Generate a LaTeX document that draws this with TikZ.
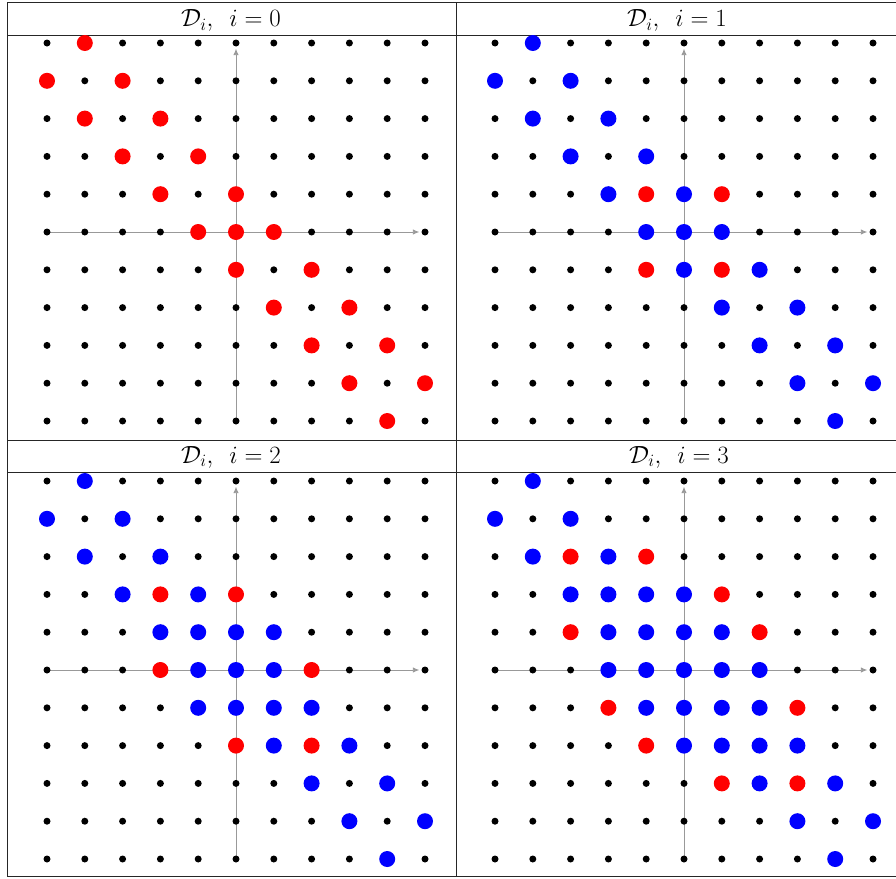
\documentclass[tikz,border=0pt]{standalone}
\usetikzlibrary{arrows.meta}
\tikzset{
  axisline/.style={draw=black!40, line width=0.9pt, -{Latex[length=6.5pt,width=5.5pt]}},
  tableline/.style={draw=black!85, line width=0.9pt},
  smalldot/.style={fill=black},
  reddot/.style={fill=red},
  bluedot/.style={fill=blue},
  headtext/.style={inner sep=0pt, anchor=base, font=\fontsize{25}{30}\selectfont}
}
\newcommand\gridpanel[4]{%
  \begin{scope}[shift={(#1pt,-#2pt)}, x=37.8pt, y=37.8pt]
    \draw[axisline] (-5,0) -- (4.85,0);
    \draw[axisline] (0,-5) -- (0,4.85);
    \foreach \i in {-5,...,5}{\foreach \j in {-5,...,5}{\fill[smalldot] (\i,\j) circle[radius=3.5pt];}}
    \foreach \a/\b in {#3}{\fill[reddot] (\a,\b) circle[radius=8pt];}
    \foreach \a/\b in {#4}{\fill[bluedot] (\a,\b) circle[radius=8pt];}
  \end{scope}}
\begin{document}
\begin{tikzpicture}
  \path[use as bounding box] (0pt,0pt) rectangle (896pt,-878pt);
  % table
  \foreach \yy in {2.7,35,440,472.5,876.5}{\draw[tableline] (7.3pt,-\yy pt) -- (897pt,-\yy pt);}
  \draw[tableline] (7.3pt,-2.7pt) -- (7.3pt,-876.5pt);
  \draw[tableline] (456pt,-2.7pt) -- (456pt,-876.5pt);
  % headers
  \node[headtext] (h0) at (231pt,-27pt) {$\mathcal{D}_i,\ \,i=0$};
  \node[headtext] (h1) at (677pt,-27pt) {$\mathcal{D}_i,\ \,i=1$};
  \node[headtext] (h2) at (231pt,-463pt) {$\mathcal{D}_i,\ \,i=2$};
  \node[headtext] (h3) at (679pt,-463pt) {$\mathcal{D}_i,\ \,i=3$};
  % panels
  \gridpanel{236}{232}{-4/5,-5/4,-3/4,-4/3,-2/3,-3/2,-1/2,-2/1,0/1,-1/0,0/0,1/0,0/-1,2/-1,1/-2,3/-2,2/-3,4/-3,3/-4,5/-4,4/-5}{}
  \gridpanel{684}{232}{-1/1,1/1,-1/-1,1/-1}{-4/5,-5/4,-3/4,-4/3,-2/3,-3/2,-1/2,-2/1,0/1,-1/0,0/0,1/0,0/-1,2/-1,1/-2,3/-2,2/-3,4/-3,3/-4,5/-4,4/-5}
  \gridpanel{236}{670}{-2/2,0/2,-2/0,2/0,0/-2,2/-2}{-4/5,-5/4,-3/4,-4/3,-2/3,-3/2,-1/2,-2/1,-1/1,0/1,1/1,-1/0,0/0,1/0,-1/-1,0/-1,1/-1,2/-1,1/-2,3/-2,2/-3,4/-3,3/-4,5/-4,4/-5}
  \gridpanel{684}{670}{-3/3,-1/3,1/2,-3/1,2/1,-2/-1,3/-1,-1/-2,1/-3,3/-3}{-4/5,-5/4,-3/4,-4/3,-2/3,-3/2,-2/2,-1/2,0/2,-2/1,-1/1,0/1,1/1,-2/0,-1/0,0/0,1/0,2/0,-1/-1,0/-1,1/-1,2/-1,0/-2,1/-2,2/-2,3/-2,2/-3,4/-3,3/-4,5/-4,4/-5}
\end{tikzpicture}
\end{document}
